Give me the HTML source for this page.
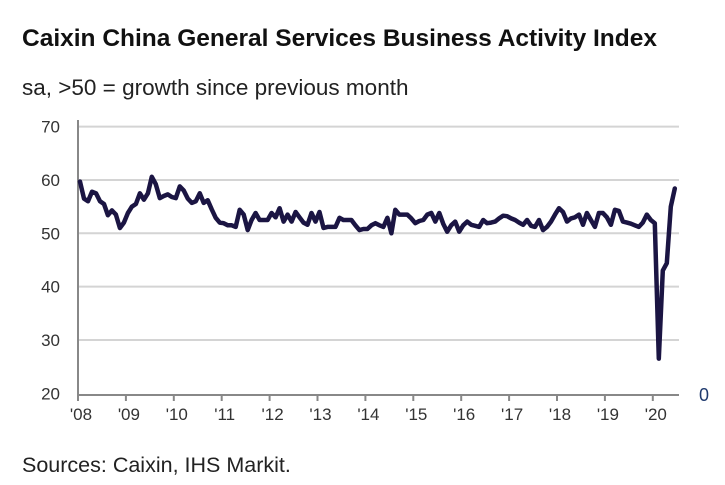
<!DOCTYPE html>
<html><head><meta charset="utf-8">
<style>
html,body{margin:0;padding:0;background:#fff;}
body{width:725px;height:485px;overflow:hidden;position:relative;font-family:"Liberation Sans",sans-serif;}
.t{position:absolute;color:#111;white-space:nowrap;}
</style></head><body>
<div class="t" style="left:22px;top:25px;font-size:24.5px;font-weight:bold;">Caixin China General Services Business Activity Index</div>
<div class="t" style="left:22px;top:75px;font-size:22.5px;color:#222;">sa, &gt;50 = growth since previous month</div>
<div class="t" style="left:22px;top:453px;font-size:21.5px;color:#222;">Sources: Caixin, IHS Markit.</div>
<svg id="chart" width="725" height="485" style="position:absolute;left:0;top:0;"></svg>
<script>
const yTicks=[20,30,40,50,60,70];
const yearLabels=["'08","'09","'10","'11","'12","'13","'14","'15","'16","'17","'18","'19","'20"];
const values=[59.7,56.5,56.0,57.8,57.5,56.0,55.5,53.4,54.3,53.5,51.0,52.0,
53.8,55.0,55.5,57.5,56.3,57.5,60.6,59.2,56.6,57.0,57.3,56.8,
56.6,58.8,58.0,56.5,55.7,56.0,57.5,55.7,56.2,54.5,52.9,52.0,
51.9,51.5,51.5,51.2,54.4,53.5,50.6,52.5,53.8,52.5,52.5,52.5,
53.8,53.0,54.7,52.2,53.5,52.2,54.0,53.0,52.0,51.6,53.8,52.2,
54.0,51.0,51.2,51.2,51.2,52.9,52.5,52.5,52.5,51.5,50.6,50.8,
50.8,51.5,51.9,51.5,51.2,52.9,50.0,54.4,53.5,53.5,53.5,52.8,
51.9,52.3,52.5,53.5,53.8,52.2,53.8,51.8,50.3,51.5,52.2,50.3,
51.5,52.2,51.6,51.4,51.2,52.5,51.9,52.0,52.2,52.8,53.3,53.2,
52.8,52.5,52.0,51.6,52.5,51.4,51.2,52.5,50.6,51.2,52.2,53.5,
54.7,54.0,52.2,52.8,53.0,53.5,51.6,53.8,52.5,51.2,53.8,53.8,
53.0,51.6,54.4,54.2,52.2,52.0,51.8,51.5,51.2,52.0,53.5,52.5,
51.9,26.5,43.0,44.4,55.0,58.4];
const NS="http://www.w3.org/2000/svg";
const svg=document.getElementById('chart');
const X0=80, PXM=47.9/12, left=78, right=679;
const xS=m=>X0+m*PXM;
const yS=v=>233.3-(v-50)*5.333;
function mk(tag,attrs){const e=document.createElementNS(NS,tag);for(const k in attrs)e.setAttribute(k,attrs[k]);svg.appendChild(e);return e;}
yTicks.forEach(v=>{
  if(v>20){const g=mk('line',{x1:left,x2:right,y1:yS(v),y2:yS(v),stroke:'#d4d4d4','stroke-width':2});
  
  }
  const t=mk('text',{x:60,y:yS(v)+6,'text-anchor':'end','font-size':17,fill:'#333','font-family':'Liberation Sans, sans-serif'});
  t.textContent=v;
  
  
});
const ax=mk('line',{x1:left,x2:right,y1:395,y2:395,stroke:'#888','stroke-width':2});


const ay=mk('line',{x1:left,x2:left,y1:120,y2:395,stroke:'#888','stroke-width':2});


yearLabels.forEach((l,i)=>{
  const x=xS(i*12)-2;
  const tk=mk('line',{x1:x,x2:x,y1:395,y2:401,stroke:'#888','stroke-width':2});
  
  
  const t=mk('text',{x:x+3,y:420,'text-anchor':'middle','font-size':17,fill:'#333','font-family':'Liberation Sans, sans-serif'});
  t.textContent=l;
  
  
});
const z=mk('text',{x:699,y:401,'font-size':18,fill:'#1f3a6e','font-family':'Liberation Sans, sans-serif'});
z.textContent='0';


const d=values.map((v,i)=>(i?'L':'M')+xS(i).toFixed(1)+','+yS(v).toFixed(1)).join(' ');
const p=mk('path',{d:d,fill:'none',stroke:'#1b1543','stroke-width':4.5,'stroke-linejoin':'round','stroke-linecap':'round'});


</script>
</body></html>
